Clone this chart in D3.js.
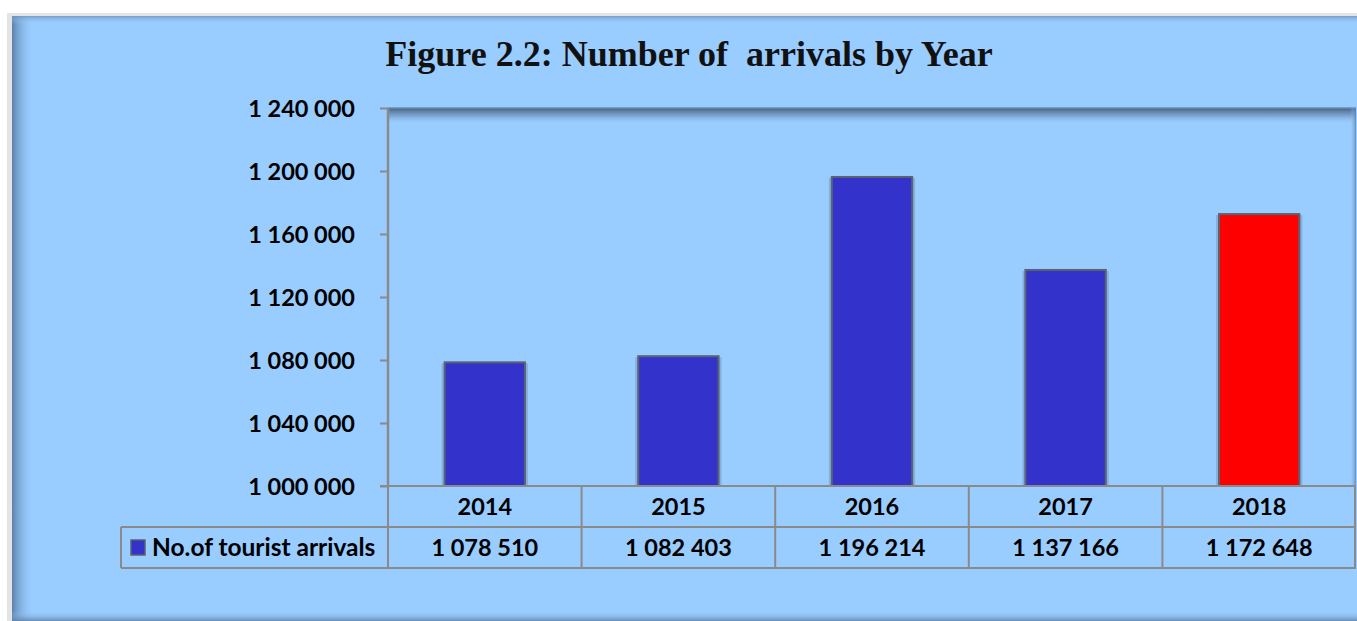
<!DOCTYPE html>
<html>
<head>
<meta charset="utf-8">
<script src="https://cdn.jsdelivr.net/npm/d3@7"></script>
<style>
  body { margin: 0; background: #fff; }
  svg { display: block; }
</style>
</head>
<body>
<script>
// data
var years = ["2014", "2015", "2016", "2017", "2018"];
var arrivals = [1078510, 1082403, 1196214, 1137166, 1172648];
var valueLabels = ["1 078 510", "1 082 403", "1 196 214", "1 137 166", "1 172 648"];
var barColors = ["#3333CC", "#3333CC", "#3333CC", "#3333CC", "#FF0000"];
var yTicks = [1000000, 1040000, 1080000, 1120000, 1160000, 1200000, 1240000];
var seriesName = "No.of tourist arrivals";

var W = 1357, H = 621;
var plot = {left: 388, right: 1356, top: 108, bottom: 486};
var row1Bottom = 527, row2Bottom = 568, tableLeft = 121;

var fmt = function(v) { return d3.format(",")(v).replace(/,/g, " "); };

var svg = d3.select("body").append("svg")
    .attr("width", W)
    .attr("height", H);

var defs = svg.append("defs");

function grad(id, x2, y2, stops) {
  var g = defs.append("linearGradient").attr("id", id)
      .attr("x1", 0).attr("y1", 0).attr("x2", x2).attr("y2", y2);
  stops.forEach(function(s) {
    g.append("stop").attr("offset", s[0]).attr("stop-color", s[1]).attr("stop-opacity", s[2]);
  });
}
grad("shTop", 0, 1, [[0, "#3f5a78", 0.95], [0.5, "#5f80a8", 0.5], [1, "#99ccff", 0]]);
grad("shLeft", 1, 0, [[0, "#4f6f95", 0.8], [1, "#99ccff", 0]]);
grad("shRight", 1, 0, [[0, "#99ccff", 0], [1, "#5a7ea6", 0.8]]);
grad("shBottom", 0, 1, [[0, "#99ccff", 0], [1, "#5a7ea6", 0.8]]);
grad("outTop", 0, 1, [[0, "#6f93bd", 0.8], [1, "#99ccff", 0]]);

// outer frame and chart background
svg.append("rect").attr("x", 7).attr("y", 13).attr("width", W - 7).attr("height", H - 13)
    .attr("fill", "#e4e4e4");
svg.append("rect").attr("x", 12).attr("y", 16).attr("width", W - 12).attr("height", H - 16)
    .attr("fill", "#99CCFF");
svg.append("rect").attr("x", 12).attr("y", 16).attr("width", 22).attr("height", H - 16)
    .attr("fill", "url(#shLeft)");
svg.append("rect").attr("x", 12).attr("y", 16).attr("width", W - 12).attr("height", 8)
    .attr("fill", "url(#outTop)");
svg.append("rect").attr("x", 12).attr("y", H - 10).attr("width", W - 12).attr("height", 10)
    .attr("fill", "url(#shBottom)");

// title
svg.append("text")
    .attr("x", 689).attr("y", 66)
    .attr("text-anchor", "middle")
    .style("font-family", "'Liberation Serif', 'DejaVu Serif', serif")
    .style("font-weight", "bold")
    .style("font-size", "36px")
    .style("white-space", "pre")
    .attr("fill", "#111")
    .text("Figure 2.2: Number of  arrivals by Year");

// scales
var x = d3.scaleBand().domain(years).range([plot.left, plot.right]).padding(0);
var y = d3.scaleLinear().domain([1000000, 1240000]).range([plot.bottom, plot.top]);
var barW = x.bandwidth() * 0.415;

// plot area inner shadows
svg.append("rect").attr("x", plot.left).attr("y", plot.top)
    .attr("width", plot.right - plot.left).attr("height", 16)
    .attr("fill", "url(#shTop)");
svg.append("line").attr("x1", plot.left).attr("x2", plot.right)
    .attr("y1", plot.top).attr("y2", plot.top)
    .attr("stroke", "#6b8db3").attr("stroke-width", 1.5);
svg.append("rect").attr("x", plot.right - 6).attr("y", plot.top)
    .attr("width", 6).attr("height", plot.bottom - plot.top)
    .attr("fill", "url(#shRight)");

// y axis
var yAxis = d3.axisLeft(y).tickValues(yTicks).tickFormat(fmt).tickSize(8).tickPadding(25);
var gy = svg.append("g").attr("transform", "translate(" + plot.left + ",0)").call(yAxis);
gy.select(".domain").attr("stroke", "#8a8a8a").attr("stroke-width", 2.5)
    .attr("d", "M0," + plot.bottom + "V" + plot.top);
gy.selectAll(".tick line").attr("stroke", "#8a8a8a").attr("stroke-width", 2);
gy.selectAll(".tick text")
    .attr("fill", "#000")
    .style("font-family", "Lato, 'Open Sans', sans-serif")
    .style("font-weight", "bold")
    .style("font-size", "23.5px")
    .attr("dy", "0.36em");

// bar shadows + bars
var bars = svg.append("g");
bars.selectAll("rect.shadow")
    .data(arrivals)
    .join("rect")
    .attr("class", "shadow")
    .attr("x", function(d, i) { return x(years[i]) + x.bandwidth() / 2 - barW / 2 - 3; })
    .attr("y", function(d) { return y(d) + 1; })
    .attr("width", barW + 6)
    .attr("height", function(d) { return plot.bottom - y(d) - 1; })
    .attr("fill", "#5f7fa3")
    .attr("opacity", 0.35);
bars.selectAll("rect.bar")
    .data(arrivals)
    .join("rect")
    .attr("class", "bar")
    .attr("x", function(d, i) { return x(years[i]) + x.bandwidth() / 2 - barW / 2; })
    .attr("y", function(d) { return y(d); })
    .attr("width", barW)
    .attr("height", function(d) { return plot.bottom - y(d); })
    .attr("fill", function(d, i) { return barColors[i]; })
    .attr("stroke", "#5b6270")
    .attr("stroke-width", 2);

// data table
var grid = svg.append("g").attr("stroke", "#8a8a8a").attr("stroke-width", 2).attr("fill", "none");
grid.append("line").attr("x1", 380).attr("x2", plot.right).attr("y1", plot.bottom).attr("y2", plot.bottom);
grid.append("line").attr("x1", tableLeft).attr("x2", plot.right).attr("y1", row1Bottom).attr("y2", row1Bottom);
grid.append("line").attr("x1", tableLeft).attr("x2", plot.right).attr("y1", row2Bottom).attr("y2", row2Bottom);
grid.append("line").attr("x1", tableLeft).attr("x2", tableLeft).attr("y1", row1Bottom).attr("y2", row2Bottom);
var edges = years.map(function(d) { return x(d); }).concat([plot.right - 1]);
grid.selectAll("line.v")
    .data(edges)
    .join("line")
    .attr("class", "v")
    .attr("x1", function(d) { return d; }).attr("x2", function(d) { return d; })
    .attr("y1", plot.bottom).attr("y2", row2Bottom);

var tableFont = function(sel, size) {
  sel.style("font-family", "Lato, 'Open Sans', sans-serif")
     .style("font-weight", "bold")
     .style("font-size", (size || 23.5) + "px")
     .attr("fill", "#000");
};

svg.append("g").selectAll("text")
    .data(years)
    .join("text")
    .attr("x", function(d) { return x(d) + x.bandwidth() / 2; })
    .attr("y", (plot.bottom + row1Bottom) / 2)
    .attr("dy", "0.36em")
    .attr("text-anchor", "middle")
    .text(function(d) { return d; })
    .call(tableFont);

svg.append("g").selectAll("text")
    .data(valueLabels)
    .join("text")
    .attr("x", function(d, i) { return x(years[i]) + x.bandwidth() / 2; })
    .attr("y", (row1Bottom + row2Bottom) / 2)
    .attr("dy", "0.36em")
    .attr("text-anchor", "middle")
    .text(function(d) { return d; })
    .call(tableFont);

// legend key in table
svg.append("rect")
    .attr("x", 131).attr("y", 540).attr("width", 14).attr("height", 15)
    .attr("fill", barColors[0]).attr("stroke", "#5b6270").attr("stroke-width", 1.5);
svg.append("text")
    .attr("x", 152).attr("y", (row1Bottom + row2Bottom) / 2)
    .attr("dy", "0.36em")
    .text(seriesName)
    .call(tableFont, 24.5);
</script>
</body>
</html>
